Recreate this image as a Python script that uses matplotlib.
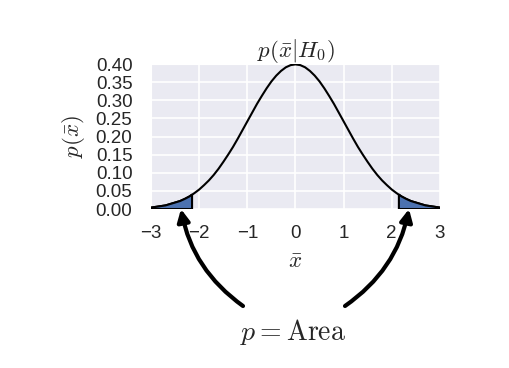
## Null distribution of the sample mean with the two p-value tails shaded

import numpy as np
import matplotlib
matplotlib.use('Agg')
import matplotlib.pyplot as plt
import seaborn as sns

# x grid and curve heights
xbar = [-3.0, -2.9, -2.8, -2.7, -2.6, -2.5, -2.4, -2.3, -2.2, -2.1,
        -2.0, -1.9, -1.8, -1.7, -1.6, -1.5, -1.4, -1.3, -1.2, -1.1,
        -1.0, -0.9, -0.8, -0.7, -0.6, -0.5, -0.4, -0.3, -0.2, -0.1,
        0.0, 0.1, 0.2, 0.3, 0.4, 0.5, 0.6, 0.7, 0.8, 0.9,
        1.0, 1.1, 1.2, 1.3, 1.4, 1.5, 1.6, 1.7, 1.8, 1.9,
        2.0, 2.1, 2.2, 2.3, 2.4, 2.5, 2.6, 2.7, 2.8, 2.9, 3.0]
p_xbar = [0.004, 0.006, 0.008, 0.010, 0.014, 0.018, 0.022, 0.028, 0.035, 0.044,
          0.054, 0.066, 0.079, 0.094, 0.111, 0.130, 0.150, 0.171, 0.194, 0.218,
          0.242, 0.266, 0.290, 0.312, 0.333, 0.352, 0.368, 0.381, 0.391, 0.397,
          0.399, 0.397, 0.391, 0.381, 0.368, 0.352, 0.333, 0.312, 0.290, 0.266,
          0.242, 0.218, 0.194, 0.171, 0.150, 0.130, 0.111, 0.094, 0.079, 0.066,
          0.054, 0.044, 0.035, 0.028, 0.022, 0.018, 0.014, 0.010, 0.008, 0.006, 0.004]

# tails beyond the observed value
left_x = [-3.0, -2.9, -2.8, -2.7, -2.6, -2.5, -2.4, -2.3, -2.2, -2.15]
left_p = [0.004, 0.006, 0.008, 0.010, 0.014, 0.018, 0.022, 0.028, 0.035, 0.040]
right_x = [2.15, 2.2, 2.3, 2.4, 2.5, 2.6, 2.7, 2.8, 2.9, 3.0]
right_p = [0.040, 0.035, 0.028, 0.022, 0.018, 0.014, 0.010, 0.008, 0.006, 0.004]

xticks = [-3, -2, -1, 0, 1, 2, 3]
yticks = [0.00, 0.05, 0.10, 0.15, 0.20, 0.25, 0.30, 0.35, 0.40]

sns.set_style('darkgrid')
plt.rcParams['font.family'] = ['Liberation Sans', 'DejaVu Sans']
plt.rcParams['mathtext.fontset'] = 'cm'

fig = plt.figure(figsize=(5.09, 3.68), dpi=100, facecolor='white')
ax = fig.add_axes([0.297, 0.432, 0.567, 0.394])

ax.plot(xbar, p_xbar, color='k', lw=1.5, zorder=3)
for tx, tp in [(left_x, left_p), (right_x, right_p)]:
    px = [tx[0]] + tx + [tx[-1]]
    py = [0] + tp + [0]
    ax.fill(px, py, facecolor='#4C72B0', edgecolor='k', lw=1.5, zorder=4)

ax.set_xlim(-3, 3)
ax.set_ylim(0, 0.4)
ax.set_xticks(xticks)
ax.set_yticks(yticks)
ax.set_yticklabels(['%.2f' % v for v in yticks])
ax.tick_params(labelsize=13.5)
ax.tick_params(axis='x', pad=8)
ax.tick_params(axis='y', pad=10)
ax.grid(True, color='white', lw=1.2)

ax.set_title(r'$p(\bar{x}|H_0)$', fontsize=16.5, pad=5)
ax.set_xlabel(r'$\bar{x}$', fontsize=16.5, labelpad=6)
ax.set_ylabel(r'$p(\bar{x})$', fontsize=16.5, labelpad=6)

# curved arrows from the label to each tail
ax.annotate('', xy=(-2.38, 0.0), xycoords='data',
            xytext=(243, 368 - 306), textcoords='figure pixels',
            arrowprops=dict(arrowstyle='-|>', color='k', lw=3, mutation_scale=18,
                            connectionstyle='arc3,rad=-0.2', shrinkA=0, shrinkB=0),
            annotation_clip=False)
ax.annotate('', xy=(2.36, 0.0), xycoords='data',
            xytext=(345, 368 - 306), textcoords='figure pixels',
            arrowprops=dict(arrowstyle='-|>', color='k', lw=3, mutation_scale=18,
                            connectionstyle='arc3,rad=0.2', shrinkA=0, shrinkB=0),
            annotation_clip=False)
fig.text(293 / 509, 1 - 332 / 368, r'$p = \mathrm{Area}$', fontsize=20,
         ha='center', va='center')

plt.savefig('out.png', dpi=100, facecolor='white')
